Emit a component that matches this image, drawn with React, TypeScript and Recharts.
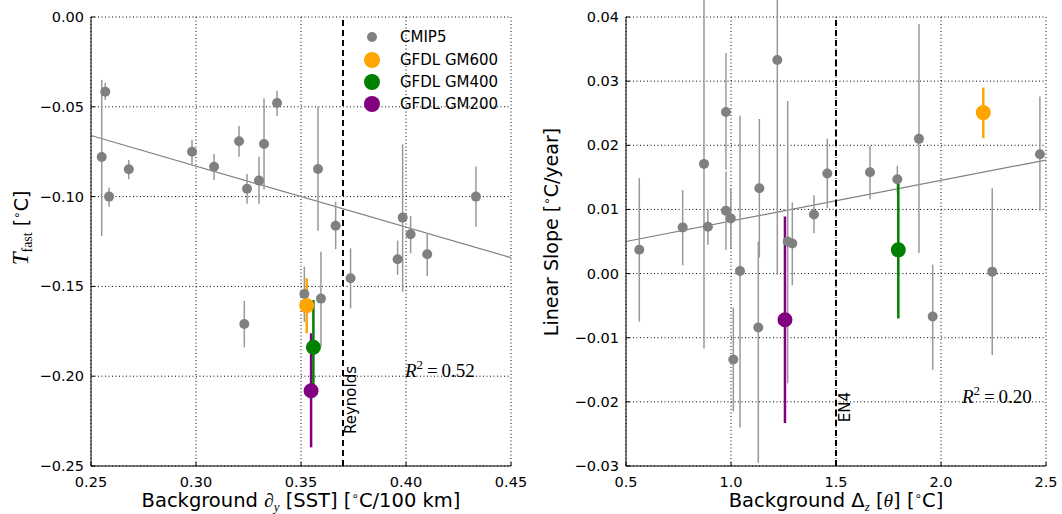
import React from "react";
import {
	ScatterChart,
	Scatter,
	XAxis,
	YAxis,
	CartesianGrid,
	ErrorBar,
	ReferenceLine,
} from "recharts";

// ---- left panel: T_fast vs background SST gradient ----
const cmipSst = [
	0.2551, 0.2568, 0.2586, 0.268, 0.2981, 0.3086, 0.3205, 0.3243, 0.33, 0.3324, 0.3386,
	0.3581, 0.3665, 0.3984, 0.4022, 0.4101, 0.4333, 0.396, 0.3736, 0.3595, 0.3516, 0.323,
];
const cmipTfast = [
	-0.078, -0.0416, -0.1, -0.0848, -0.075, -0.0834, -0.0692, -0.0956, -0.0911, -0.0707, -0.0479,
	-0.0846, -0.1162, -0.1117, -0.121, -0.1321, -0.1, -0.1349, -0.1455, -0.1568, -0.1542, -0.1709,
];
const cmipTfastLo = [
	-0.122, -0.0462, -0.1056, -0.0904, -0.0818, -0.0907, -0.0778, -0.104, -0.104, -0.096, -0.0551,
	-0.119, -0.1293, -0.153, -0.1316, -0.1442, -0.1168, -0.1436, -0.1622, -0.1836, -0.1697, -0.1839,
];
const cmipTfastHi = [
	-0.035, -0.0366, -0.095, -0.0796, -0.0685, -0.0763, -0.0607, -0.0874, -0.0778, -0.0453, -0.041,
	-0.05, -0.1028, -0.0709, -0.1108, -0.1204, -0.0833, -0.1245, -0.1288, -0.1307, -0.139, -0.158,
];

const gfdlNames = ["GFDL GM600", "GFDL GM400", "GFDL GM200"];
const gfdlColors = ["#FFA500", "#008000", "#800080"];
const gfdlSst = [0.3527, 0.3559, 0.3548];
const gfdlTfast = [-0.1607, -0.1839, -0.2081];
const gfdlTfastLo = [-0.1761, -0.2105, -0.2396];
const gfdlTfastHi = [-0.1455, -0.1576, -0.1761];

const fitSst = [0.25, 0.45];
const fitTfast = [-0.066, -0.134];

const sstTicks = [0.25, 0.3, 0.35, 0.4, 0.45];
const tfastTicks = [-0.25, -0.2, -0.15, -0.1, -0.05, 0];

// ---- right panel: linear slope vs background stratification ----
const cmipDz = [
	0.5633, 0.77, 0.8714, 0.89, 0.976, 0.976, 0.999, 1.043, 1.135, 1.13, 1.2205,
	1.27, 1.292, 1.395, 1.4586, 1.662, 1.792, 1.895, 2.471, 1.9605, 2.244, 1.011,
];
const cmipSlope = [
	0.0037, 0.0072, 0.0171, 0.0073, 0.0252, 0.0098, 0.0086, 0.0004, 0.0133, -0.0084, 0.0333,
	0.005, 0.0047, 0.0092, 0.0156, 0.0158, 0.0147, 0.021, 0.0186, -0.0067, 0.0003, -0.0134,
];
const cmipSlopeLo = [
	-0.0075, 0.0013, -0.0117, 0.0045, 0.0162, 0.0037, 0.0039, -0.024, 0.0025, -0.0295, -0.0002,
	-0.0171, -0.0018, 0.0063, 0.0102, 0.0116, 0.0126, 0.0032, 0.0098, -0.015, -0.0127, -0.0215,
];
const cmipSlopeHi = [
	0.0149, 0.013, 0.045, 0.0099, 0.0344, 0.0159, 0.0133, 0.0246, 0.0241, 0.005, 0.047,
	0.0269, 0.0111, 0.0122, 0.021, 0.0199, 0.0168, 0.0389, 0.0276, 0.0014, 0.0133, -0.0053,
];

const gfdlDz = [2.2014, 1.7967, 1.257];
const gfdlSlope = [0.0251, 0.0037, -0.0072];
const gfdlSlopeLo = [0.0211, -0.007, -0.0233];
const gfdlSlopeHi = [0.029, 0.0143, 0.0089];

const fitDz = [0.5, 2.5];
const fitSlope = [0.005, 0.0177];

const dzTicks = [0.5, 1.0, 1.5, 2.0, 2.5];
const slopeTicks = [-0.03, -0.02, -0.01, 0, 0.01, 0.02, 0.03, 0.04];

const FONT = "DejaVu Sans";
const GRAY = "#808080";

const rows = (xs: number[], ys: number[], lo: number[], hi: number[]) =>
	xs.map((x, i) => ({ x, y: ys[i], err: [ys[i] - lo[i], hi[i] - ys[i]] }));

const fmt2 = (v: number) => (v < 0 ? "\u2212" + Math.abs(v).toFixed(2) : v.toFixed(2));
const fmt1 = (v: number) => v.toFixed(1);

const dot = (r: number, fill: string) => (p: any) => <circle cx={p.cx} cy={p.cy} r={r} fill={fill} />;

interface PanelProps {
	left: number;
	yAxisW: number;
	rightMargin: number;
	xDomain: number[];
	yDomain: number[];
	xTicks: number[];
	yTicks: number[];
	xFmt: (v: number) => string;
	yFmt: (v: number) => string;
	cmip: any[];
	gfdl: any[][];
	fit: { x: number; y: number }[];
	refX: number;
}

const W = 531;
const H = 514;
const TOP = 17;
const BOTTOM = 466;

const Panel = (p: PanelProps) => {
	const plotL = p.yAxisW;
	const plotR = W - p.rightMargin;
	const BottomTick = (t: any) => (
		<g>
			<line x1={t.x} x2={t.x} y1={BOTTOM} y2={BOTTOM - 4} stroke="#000" />
			<text x={t.x} y={BOTTOM + 21} textAnchor="middle" fontSize={14.5} fontFamily={FONT} fill="#000">
				{p.xFmt(t.payload.value)}
			</text>
		</g>
	);
	const TopTick = (t: any) => <line x1={t.x} x2={t.x} y1={TOP} y2={TOP + 4} stroke="#000" />;
	const LeftTick = (t: any) => (
		<g>
			<line x1={plotL} x2={plotL + 4} y1={t.y} y2={t.y} stroke="#000" />
			<text x={plotL - 7} y={t.y + 5} textAnchor="end" fontSize={14.5} fontFamily={FONT} fill="#000">
				{p.yFmt(t.payload.value)}
			</text>
		</g>
	);
	const RightTick = (t: any) => <line x1={plotR - 4} x2={plotR} y1={t.y} y2={t.y} stroke="#000" />;

	return (
		<div style={{ position: "absolute", left: p.left, top: 0 }}>
			<ScatterChart width={W} height={H} margin={{ top: TOP, right: p.rightMargin, bottom: 0, left: 0 }}>
				<CartesianGrid stroke="#000" strokeWidth={1} strokeDasharray="1 2.5" />
				<XAxis
					type="number"
					dataKey="x"
					domain={p.xDomain}
					ticks={p.xTicks}
					allowDataOverflow
					height={H - BOTTOM}
					axisLine={{ stroke: "#000" }}
					tickLine={false}
					tick={<BottomTick />}
				/>
				<XAxis
					xAxisId="top"
					orientation="top"
					type="number"
					domain={p.xDomain}
					ticks={p.xTicks}
					allowDataOverflow
					height={0}
					axisLine={{ stroke: "#000" }}
					tickLine={false}
					tick={<TopTick />}
				/>
				<YAxis
					type="number"
					dataKey="y"
					domain={p.yDomain}
					ticks={p.yTicks}
					allowDataOverflow
					width={p.yAxisW}
					axisLine={{ stroke: "#000" }}
					tickLine={false}
					tick={<LeftTick />}
				/>
				<YAxis
					yAxisId="right"
					orientation="right"
					type="number"
					domain={p.yDomain}
					ticks={p.yTicks}
					allowDataOverflow
					width={0}
					axisLine={{ stroke: "#000" }}
					tickLine={false}
					tick={<RightTick />}
				/>
				<ReferenceLine segment={p.fit} stroke={GRAY} strokeWidth={1.2} />
				<ReferenceLine x={p.refX} stroke="#000" strokeWidth={2} strokeDasharray="6 4" />
				<Scatter data={p.cmip} shape={dot(5, GRAY)} isAnimationActive={false}>
					<ErrorBar dataKey="err" direction="y" width={0} stroke="#999999" strokeWidth={1.5} />
				</Scatter>
				{[2, 1, 0].map((k) => (
					<Scatter
						key={k}
						data={p.gfdl[k]}
						shape={dot(7.5, gfdlColors[k])}
						isAnimationActive={false}
					>
						<ErrorBar dataKey="err" direction="y" width={0} stroke={gfdlColors[k]} strokeWidth={2.5} />
					</Scatter>
				))}
			</ScatterChart>
		</div>
	);
};

export default function App() {
	const leftCmip = rows(cmipSst, cmipTfast, cmipTfastLo, cmipTfastHi);
	const leftGfdl = gfdlSst.map((x, i) => rows([x], [gfdlTfast[i]], [gfdlTfastLo[i]], [gfdlTfastHi[i]]));
	const rightCmip = rows(cmipDz, cmipSlope, cmipSlopeLo, cmipSlopeHi);
	const rightGfdl = gfdlDz.map((x, i) => rows([x], [gfdlSlope[i]], [gfdlSlopeLo[i]], [gfdlSlopeHi[i]]));

	return (
		<div style={{ position: "absolute", left: 0, top: 0, width: 1062, height: 514, background: "#fff" }}>
			<Panel
				left={0}
				yAxisW={91}
				rightMargin={20}
				xDomain={[0.25, 0.45]}
				yDomain={[-0.25, 0]}
				xTicks={sstTicks}
				yTicks={tfastTicks}
				xFmt={fmt2}
				yFmt={fmt2}
				cmip={leftCmip}
				gfdl={leftGfdl}
				fit={fitSst.map((x, i) => ({ x, y: fitTfast[i] }))}
				refX={0.37}
			/>
			<Panel
				left={531}
				yAxisW={95}
				rightMargin={16}
				xDomain={[0.5, 2.5]}
				yDomain={[-0.03, 0.04]}
				xTicks={dzTicks}
				yTicks={slopeTicks}
				xFmt={fmt1}
				yFmt={fmt2}
				cmip={rightCmip}
				gfdl={rightGfdl}
				fit={fitDz.map((x, i) => ({ x, y: fitSlope[i] }))}
				refX={1.5}
			/>
			<svg
				width={1062}
				height={514}
				style={{ position: "absolute", left: 0, top: 0, pointerEvents: "none" }}
				fontFamily={FONT}
			>
				{/* axis titles */}
				<text transform="translate(28,228) rotate(-90)" textAnchor="middle" fontSize={19}>
					<tspan fontFamily="Liberation Serif" fontStyle="italic" fontSize={23}>T</tspan>
					<tspan fontFamily="Liberation Serif" fontSize={14} dy={4}>fast</tspan>
					<tspan dy={-4}> [</tspan>
					<tspan fontSize={12} dy={-7}>{"\u2218"}</tspan>
					<tspan dy={7}>C]</tspan>
				</text>
				<text transform="translate(558,232) rotate(-90)" textAnchor="middle" fontSize={19}>
					<tspan>Linear Slope [</tspan>
					<tspan fontSize={12} dy={-7}>{"\u2218"}</tspan>
					<tspan dy={7}>C/year]</tspan>
				</text>
				<text x={301} y={507} textAnchor="middle" fontSize={19.5}>
					<tspan>Background </tspan>
					<tspan fontFamily="Liberation Serif" fontStyle="italic">{"\u2202"}</tspan>
					<tspan fontFamily="Liberation Serif" fontStyle="italic" fontSize={13} dy={4}>y</tspan>
					<tspan dy={-4}> [SST] [</tspan>
					<tspan fontSize={12} dy={-7}>{"\u2218"}</tspan>
					<tspan dy={7}>C/100 km]</tspan>
				</text>
				<text x={836} y={507} textAnchor="middle" fontSize={19.5}>
					<tspan>Background {"\u0394"}</tspan>
					<tspan fontFamily="Liberation Serif" fontStyle="italic" fontSize={13} dy={4}>z</tspan>
					<tspan dy={-4}> [</tspan>
					<tspan fontFamily="Liberation Serif" fontStyle="italic">{"\u03b8"}</tspan>
					<tspan>] [</tspan>
					<tspan fontSize={12} dy={-7}>{"\u2218"}</tspan>
					<tspan dy={7}>C]</tspan>
				</text>
				{/* reference line labels */}
				<text transform="translate(356,400) rotate(-90)" textAnchor="middle" fontSize={15}>Reynolds</text>
				<text transform="translate(850,407) rotate(-90)" textAnchor="middle" fontSize={15}>EN4</text>
				{/* R^2 annotations */}
				<text x={405} y={377} fontFamily="Liberation Serif" fontSize={19}>
					<tspan fontStyle="italic">R</tspan>
					<tspan fontSize={13} dy={-8}>2</tspan>
					<tspan dy={8}>{"\u2009=\u20090.52"}</tspan>
				</text>
				<text x={962} y={403} fontFamily="Liberation Serif" fontSize={19}>
					<tspan fontStyle="italic">R</tspan>
					<tspan fontSize={13} dy={-8}>2</tspan>
					<tspan dy={8}>{"\u2009=\u20090.20"}</tspan>
				</text>
				{/* legend */}
				<circle cx={372} cy={37} r={5} fill={GRAY} />
				<text x={400} y={42} fontSize={15}>CMIP5</text>
				{gfdlNames.map((n, i) => (
					<g key={n}>
						<circle cx={372} cy={60 + i * 22} r={8} fill={gfdlColors[i]} />
						<text x={400} y={65 + i * 22} fontSize={15}>{n}</text>
					</g>
				))}
			</svg>
		</div>
	);
}
